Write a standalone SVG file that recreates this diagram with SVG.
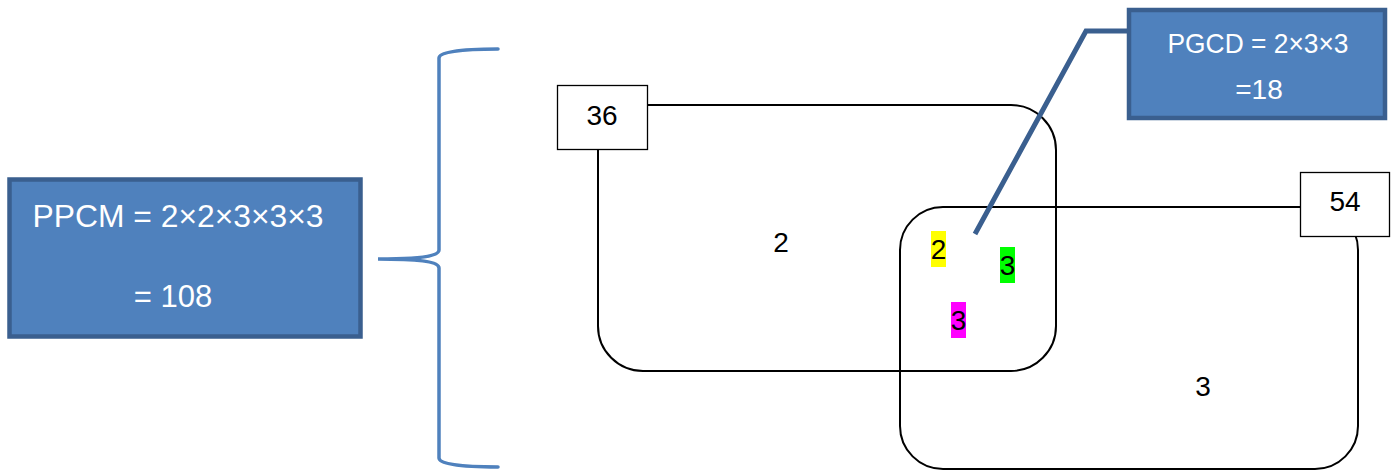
<svg xmlns="http://www.w3.org/2000/svg" width="1396" height="471" viewBox="0 0 1396 471">
<style>
.blue{fill:#4F81BD;stroke:#3A5F8F;stroke-width:4.5}
.wt{fill:#FFFFFF;font-family:"Liberation Sans",Arial,sans-serif;text-anchor:middle}
.set{fill:none;stroke:#000;stroke-width:2}
.lbl{fill:#FFFFFF;stroke:#000;stroke-width:1.3}
.bt{fill:#000;font-family:"Liberation Sans",Arial,sans-serif;font-size:28px;text-anchor:middle}
</style>
<rect width="1396" height="471" fill="#FFFFFF"/>
<g id="set36">
<rect class="set" x="598" y="105" width="458" height="266" rx="45" ry="45"/>
</g>
<g id="set54">
<rect class="set" x="900" y="207" width="458" height="262" rx="43" ry="43"/>
</g>
<g id="connectors">
<path d="M498,49 C460,49 439,52 439,58 L439,250 C439,256 420,259 378,259 C420,259 439,262 439,268 L439,458 C439,464 460,467 498,467" fill="none" stroke="#4F81BD" stroke-width="3.5" stroke-linecap="round"/>
<path d="M1138,31 L1086,31 L975,234" fill="none" stroke="#3A5F8F" stroke-width="5"/>
</g>
<g id="label36">
<rect class="lbl" x="557.5" y="85.5" width="90" height="64"/>
<text class="bt" x="602" y="125">36</text>
</g>
<g id="label54">
<rect class="lbl" x="1300.5" y="172.5" width="89" height="64"/>
<text class="bt" x="1345" y="211">54</text>
</g>
<g id="ppcm">
<rect class="blue" x="9.5" y="179.5" width="351" height="157"/>
<text class="wt" x="178" y="227" font-size="31" textLength="291" lengthAdjust="spacingAndGlyphs">PPCM = 2×2×3×3×3</text>
<text class="wt" x="173" y="307" font-size="31">= 108</text>
</g>
<g id="pgcd">
<rect class="blue" x="1129" y="10" width="256" height="108"/>
<text class="wt" x="1258" y="53" font-size="28" textLength="181" lengthAdjust="spacingAndGlyphs">PGCD = 2×3×3</text>
<text class="wt" x="1259" y="99" font-size="28">=18</text>
</g>
<g id="factor2-only36"><text class="bt" x="781" y="252">2</text></g>
<g id="factor3-only54"><text class="bt" x="1203" y="396">3</text></g>
<g id="common2">
<rect x="931" y="231" width="15" height="36" fill="#FFFF00"/>
<text class="bt" x="938.5" y="259">2</text>
</g>
<g id="common3a">
<rect x="1000" y="247" width="15" height="36" fill="#00FF00"/>
<text class="bt" x="1007.5" y="275">3</text>
</g>
<g id="common3b">
<rect x="951" y="302" width="15" height="36" fill="#FF00FF"/>
<text class="bt" x="958.5" y="330">3</text>
</g>
</svg>
